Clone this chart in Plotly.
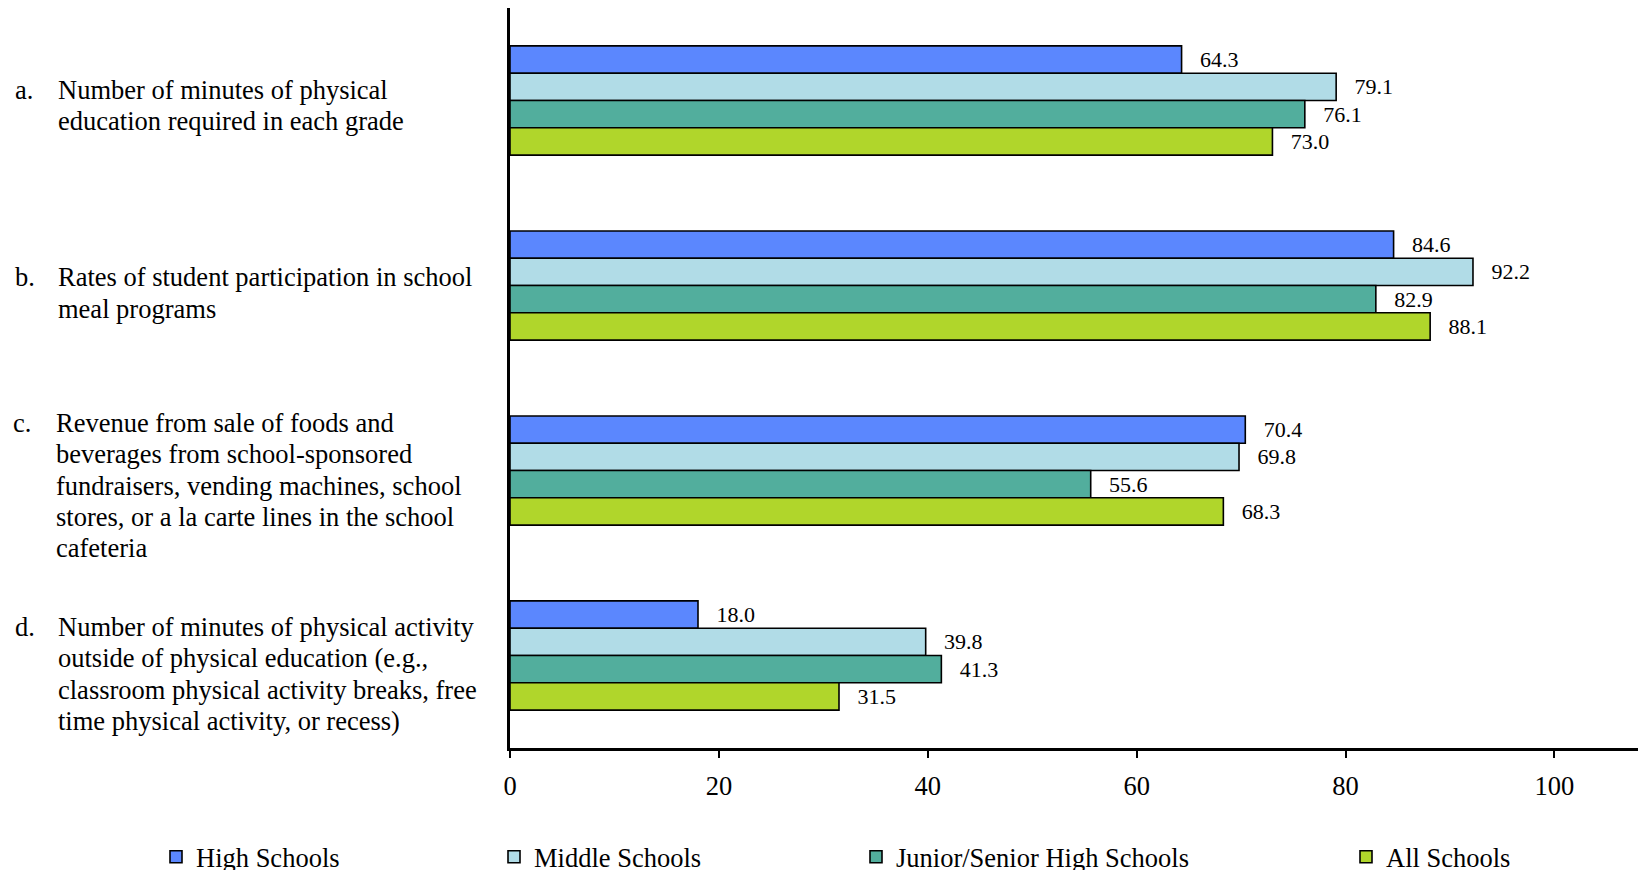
import plotly.graph_objects as go

categories = ["a", "b", "c", "d"]
category_letters = ["a.", "b.", "c.", "d."]
category_lines = [
    ["Number of minutes of physical", "education required in each grade"],
    ["Rates of student participation in school", "meal programs"],
    ["Revenue from sale of foods and", "beverages from school-sponsored",
     "fundraisers, vending machines, school", "stores, or a la carte lines in the school",
     "cafeteria"],
    ["Number of minutes of physical activity", "outside of physical education (e.g.,",
     "classroom physical activity breaks, free", "time physical activity, or recess)"],
]
series_names = ["High Schools", "Middle Schools", "Junior/Senior High Schools", "All Schools"]
high_schools = [64.3, 84.6, 70.4, 18.0]
middle_schools = [79.1, 92.2, 69.8, 39.8]
junior_senior = [76.1, 82.9, 55.6, 41.3]
all_schools = [73.0, 88.1, 68.3, 31.5]
x_ticks = [0, 20, 40, 60, 80, 100]

colors = ["#5b87fe", "#b1dce7", "#52ae9d", "#b0d62b"]
series_values = [high_schools, middle_schools, junior_senior, all_schools]

W, H = 1641, 900
OFF = 0  # page body offset (body margin removed below)
PLOT_LEFT_SCREEN, PLOT_RIGHT_SCREEN = 510, 1638
PLOT_TOP_SCREEN, PLOT_BOTTOM_SCREEN = 8, 748
L = PLOT_LEFT_SCREEN - OFF
R = W - (PLOT_RIGHT_SCREEN - OFF)
T = PLOT_TOP_SCREEN - OFF
B = H - (PLOT_BOTTOM_SCREEN - OFF)
FONT = "Liberation Serif, Times New Roman, serif"
LABEL_SIZE = 26.5

fig = go.Figure()
legend_ids = ["legend", "legend2", "legend3", "legend4"]
for name, vals, col, lg in zip(series_names, series_values, colors, legend_ids):
    fig.add_trace(go.Bar(
        y=categories, x=vals, orientation="h", name=name,
        marker=dict(color=col, line=dict(color="black", width=1.6)),
        text=vals, texttemplate="\u00a0\u00a0\u2009%{x:.1f}", textposition="outside",
        textfont=dict(family=FONT, size=22, color="black"),
        constraintext="none", cliponaxis=False, legend=lg,
    ))

plot_w = W - L - R
plot_h = H - T - B


def px_x(px):
    # px: screen pixel
    return (px - OFF - L) / plot_w


def px_y(py):
    return (H - B - (py - OFF)) / plot_h


letter_x = [12.7, 12.7, 10.6, 12.7]
text_x = [55.6, 55.6, 53.5, 55.6]
first_line_y = [90.0, 277.3, 422.8, 626.9]
LINE_H = 31.4

annotations = []
for lx, tx, fy, let, lines in zip(letter_x, text_x, first_line_y, category_letters, category_lines):
    annotations.append(dict(
        xref="paper", yref="paper", x=px_x(lx), y=px_y(fy),
        text=let, showarrow=False, xanchor="left", yanchor="middle", align="left",
        font=dict(family=FONT, size=LABEL_SIZE, color="black"),
    ))
    for i, ln in enumerate(lines):
        annotations.append(dict(
            xref="paper", yref="paper", x=px_x(tx), y=px_y(fy + i * LINE_H),
            text=ln, showarrow=False, xanchor="left", yanchor="middle", align="left",
            font=dict(family=FONT, size=LABEL_SIZE, color="black"),
        ))

legend_px = [156, 494, 856, 1346]  # screen px of legend box left
leg_common = dict(orientation="h", xanchor="left", yanchor="middle",
                  font=dict(family=FONT, size=LABEL_SIZE, color="black"),
                  bgcolor="rgba(0,0,0,0)", itemwidth=30)
layout_legends = {}
for lg, lx in zip(legend_ids, legend_px):
    layout_legends[lg] = dict(x=px_x(lx), y=px_y(857), **leg_common)

fig.update_layout(
    width=W, height=H,
    margin=dict(l=L, r=R, t=T, b=B),
    paper_bgcolor="white", plot_bgcolor="white",
    barmode="group", bargap=0.41, bargroupgap=0,
    font=dict(family=FONT, color="black"),
    showlegend=True,
    xaxis=dict(range=[0, 108], tickvals=x_ticks, ticks="outside", ticklen=7,
               tickwidth=1.5, tickcolor="black", showline=True, linecolor="black",
               linewidth=3, showgrid=False, zeroline=False,
               tickfont=dict(family=FONT, size=LABEL_SIZE, color="black"),
               ticklabelstandoff=5),
    yaxis=dict(autorange="reversed", showticklabels=False, ticks="",
               showline=True, linecolor="black", linewidth=2.5, showgrid=False,
               zeroline=False),
    annotations=annotations,
    **layout_legends,
)

fig.write_html(
    "out.html",
    config={"displayModeBar": False},
    post_script=(
        "document.body.style.margin='0';"
        "document.documentElement.style.overflow='hidden';"
        "document.body.style.overflow='hidden';"
    ),
)
